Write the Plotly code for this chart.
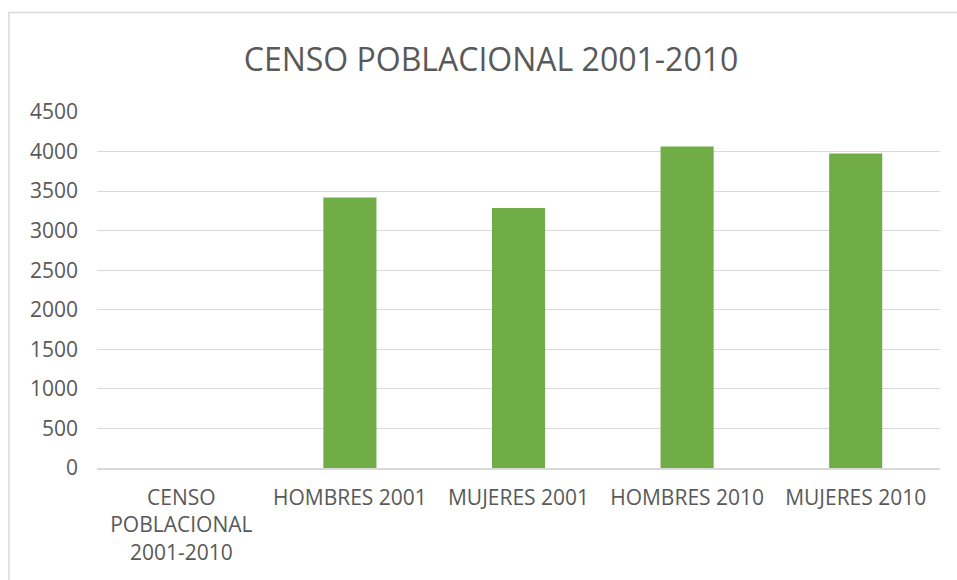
import plotly.graph_objects as go

categories = ["CENSO<br>POBLACIONAL<br>2001-2010", "HOMBRES 2001", "MUJERES 2001", "HOMBRES 2010", "MUJERES 2010"]
values = [None, 3420, 3285, 4065, 3975]
y_ticks = [0, 500, 1000, 1500, 2000, 2500, 3000, 3500, 4000, 4500]

TEXT = "#595959"
GRID = "#D9D9D9"
GREEN = "#70AD47"

L, R, T, B = 97, 940, 112, 468
PW, PH = R - L, B - T

fig = go.Figure(go.Bar(x=categories, y=values, marker=dict(color=GREEN, line=dict(width=0))))

fig.update_layout(
    width=957, height=580,
    margin=dict(l=L, r=957 - R, t=T, b=580 - B),
    paper_bgcolor="white", plot_bgcolor="white",
    font=dict(family="Open Sans", size=21, color=TEXT),
    bargap=0.685,
    showlegend=False,
    title=dict(text="CENSO POBLACIONAL 2001-2010", x=491/957, xanchor="center",
               y=1-60/580, yanchor="middle", xref="container", yref="container",
               font=dict(family="Open Sans", size=32, color=TEXT)),
    shapes=[dict(type="rect", xref="paper", yref="paper",
                 x0=(9 - L)/PW, x1=(965 - L)/PW, y0=-(130)/PH, y1=(B - 12.5)/PH,
                 line=dict(color=GRID, width=1.5), fillcolor="rgba(0,0,0,0)", layer="below")],
)
fig.update_yaxes(range=[0, 4500], tickvals=y_ticks, showgrid=True, gridcolor=GRID, gridwidth=1,
                 zeroline=False, showline=False, ticklabelstandoff=18, fixedrange=True)
fig.update_xaxes(showline=True, linecolor=GRID, linewidth=1.5, showgrid=False,
                 ticklabelstandoff=10, tickangle=0)

fig.write_html("out.html", post_script="document.body.style.margin='0';",
               config={"displayModeBar": False})
